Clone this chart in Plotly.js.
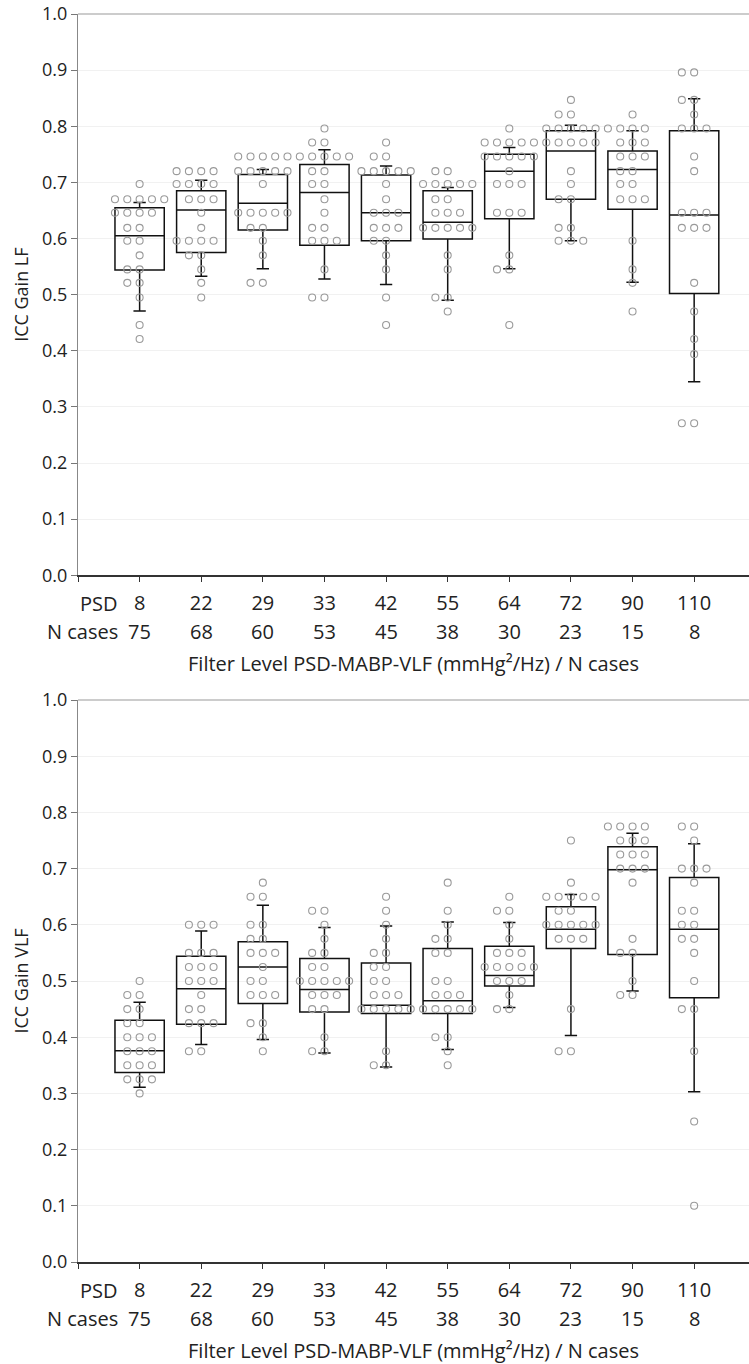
<!DOCTYPE html>
<html>
<head>
<meta charset="utf-8">
<script src="https://cdn.plot.ly/plotly-3.0.1.min.js"></script>
<style>html,body{margin:0;padding:0;background:#fff;}#chart{width:749px;height:1364px;}</style>
</head>
<body>
<div id="chart"></div>
<script>
// ---------- data ----------
const psdLabels = ['8','22','29','33','42','55','64','72','90','110'];
const nCases    = ['75','68','60','53','45','38','30','23','15','8'];
const xTitle = 'Filter Level PSD-MABP-VLF (mmHg²/Hz) / N cases';

// ICC Gain LF : box statistics
const lfQ3    = [0.655,0.685,0.714,0.732,0.713,0.685,0.750,0.792,0.756,0.792];
const lfMed   = [0.605,0.651,0.663,0.682,0.646,0.629,0.720,0.756,0.723,0.642];
const lfQ1    = [0.544,0.575,0.615,0.588,0.596,0.599,0.635,0.670,0.652,0.502];
const lfUpper = [0.664,0.704,0.723,0.758,0.729,0.691,0.762,0.802,0.792,0.849];
const lfLower = [0.471,0.533,0.546,0.528,0.518,0.490,0.546,0.596,0.522,0.345];

// ICC Gain LF : individual points per filter level
const lfPts0 = [0.697,0.670,0.670,0.670,0.670,0.670,0.646,0.646,0.646,0.646,0.619,0.619,0.596,0.596,0.570,0.545,0.545,0.521,0.521,0.495,0.446,0.421];
const lfPts1 = [0.720,0.720,0.720,0.720,0.697,0.697,0.697,0.697,0.670,0.670,0.670,0.646,0.619,0.596,0.596,0.596,0.596,0.570,0.570,0.545,0.521,0.495];
const lfPts2 = [0.746,0.746,0.746,0.746,0.746,0.720,0.720,0.720,0.720,0.720,0.697,0.646,0.646,0.646,0.646,0.646,0.619,0.619,0.596,0.570,0.521,0.521];
const lfPts3 = [0.796,0.771,0.771,0.746,0.746,0.746,0.746,0.746,0.720,0.720,0.697,0.697,0.670,0.646,0.619,0.619,0.596,0.596,0.596,0.545,0.495,0.495];
const lfPts4 = [0.771,0.746,0.746,0.720,0.720,0.720,0.720,0.720,0.697,0.670,0.646,0.646,0.646,0.619,0.619,0.619,0.596,0.596,0.570,0.545,0.495,0.446];
const lfPts5 = [0.720,0.720,0.697,0.697,0.697,0.697,0.697,0.670,0.670,0.646,0.646,0.646,0.619,0.619,0.619,0.619,0.619,0.570,0.545,0.495,0.495,0.470];
const lfPts6 = [0.796,0.771,0.771,0.771,0.771,0.771,0.746,0.746,0.746,0.746,0.746,0.720,0.697,0.697,0.697,0.646,0.646,0.646,0.570,0.545,0.545,0.446];
const lfPts7 = [0.847,0.821,0.821,0.796,0.796,0.796,0.796,0.796,0.771,0.771,0.771,0.771,0.771,0.720,0.697,0.670,0.670,0.619,0.619,0.596,0.596,0.596];
const lfPts8 = [0.821,0.796,0.796,0.796,0.796,0.771,0.771,0.771,0.746,0.746,0.746,0.720,0.720,0.697,0.697,0.670,0.670,0.670,0.596,0.545,0.521,0.470];
const lfPts9 = [0.896,0.896,0.847,0.847,0.821,0.796,0.796,0.796,0.746,0.720,0.646,0.646,0.646,0.619,0.619,0.619,0.521,0.470,0.421,0.394,0.271,0.271];

// ICC Gain VLF : box statistics
const vlfQ3    = [0.430,0.544,0.570,0.540,0.532,0.558,0.562,0.632,0.739,0.684];
const vlfMed   = [0.376,0.486,0.525,0.485,0.457,0.465,0.510,0.592,0.698,0.592];
const vlfQ1    = [0.337,0.423,0.460,0.445,0.442,0.442,0.491,0.558,0.547,0.470];
const vlfUpper = [0.462,0.589,0.635,0.595,0.598,0.605,0.604,0.654,0.763,0.744];
const vlfLower = [0.311,0.387,0.396,0.372,0.347,0.378,0.453,0.403,0.482,0.303];

// ICC Gain VLF : individual points per filter level
const vlfPts0 = [0.500,0.475,0.475,0.450,0.450,0.425,0.425,0.400,0.400,0.400,0.375,0.375,0.375,0.350,0.350,0.350,0.325,0.325,0.325,0.300];
const vlfPts1 = [0.600,0.600,0.600,0.550,0.550,0.550,0.525,0.525,0.525,0.500,0.500,0.500,0.475,0.450,0.450,0.425,0.425,0.425,0.375,0.375];
const vlfPts2 = [0.675,0.650,0.650,0.600,0.600,0.575,0.575,0.550,0.550,0.550,0.525,0.500,0.500,0.475,0.475,0.475,0.425,0.425,0.400,0.375];
const vlfPts3 = [0.625,0.625,0.600,0.575,0.550,0.550,0.525,0.525,0.500,0.500,0.500,0.500,0.500,0.475,0.475,0.475,0.450,0.450,0.400,0.375,0.375];
const vlfPts4 = [0.650,0.625,0.600,0.575,0.550,0.550,0.525,0.525,0.500,0.500,0.475,0.475,0.475,0.450,0.450,0.450,0.450,0.450,0.375,0.350,0.350];
const vlfPts5 = [0.675,0.625,0.600,0.575,0.575,0.550,0.550,0.500,0.500,0.475,0.475,0.475,0.450,0.450,0.450,0.450,0.450,0.400,0.400,0.375,0.350];
const vlfPts6 = [0.650,0.625,0.625,0.600,0.575,0.550,0.550,0.550,0.525,0.525,0.525,0.525,0.525,0.500,0.500,0.500,0.475,0.450,0.450];
const vlfPts7 = [0.750,0.675,0.650,0.650,0.650,0.650,0.650,0.625,0.625,0.600,0.600,0.600,0.600,0.600,0.575,0.575,0.575,0.450,0.375,0.375];
const vlfPts8 = [0.775,0.775,0.775,0.775,0.750,0.750,0.750,0.725,0.725,0.725,0.700,0.700,0.700,0.675,0.575,0.550,0.550,0.500,0.475,0.475];
const vlfPts9 = [0.775,0.775,0.750,0.700,0.700,0.700,0.675,0.625,0.625,0.600,0.600,0.575,0.575,0.550,0.500,0.450,0.450,0.375,0.250,0.100];

const lfPoints  = [lfPts0,lfPts1,lfPts2,lfPts3,lfPts4,lfPts5,lfPts6,lfPts7,lfPts8,lfPts9];
const vlfPoints = [vlfPts0,vlfPts1,vlfPts2,vlfPts3,vlfPts4,vlfPts5,vlfPts6,vlfPts7,vlfPts8,vlfPts9];

// ---------- build ----------
const cats = psdLabels.map((_, i) => i);
const colOrder = [0,-1,1,-2,2,-3,3,-4,4];
const colStep = 0.2;

function swarm(groups) {
  const xs = [], ys = [];
  groups.forEach((vals, ci) => {
    const seen = {};
    vals.forEach(v => {
      const k = v.toFixed(3);
      const n = seen[k] || 0;
      seen[k] = n + 1;
      xs.push(ci + colOrder[n] * colStep);
      ys.push(v);
    });
  });
  return {xs, ys};
}

const boxStyle = {
  type: 'box', boxpoints: false, width: 0.8, whiskerwidth: 0.25,
  fillcolor: 'rgba(0,0,0,0)', line: {color: '#111', width: 1.5},
  hoverinfo: 'skip', showlegend: false
};
const dotStyle = {
  type: 'scatter', mode: 'markers', hoverinfo: 'skip', showlegend: false,
  marker: {symbol: 'circle-open', size: 7, color: '#9a9a9a', line: {width: 1.1}}
};

const lfSw = swarm(lfPoints), vlfSw = swarm(vlfPoints);

const traces = [
  Object.assign({}, boxStyle, {x: cats, q1: lfQ1, median: lfMed, q3: lfQ3, lowerfence: lfLower, upperfence: lfUpper, xaxis: 'x', yaxis: 'y'}),
  Object.assign({}, boxStyle, {x: cats, q1: vlfQ1, median: vlfMed, q3: vlfQ3, lowerfence: vlfLower, upperfence: vlfUpper, xaxis: 'x2', yaxis: 'y2'}),
  Object.assign({}, dotStyle, {x: lfSw.xs, y: lfSw.ys, xaxis: 'x', yaxis: 'y'}),
  Object.assign({}, dotStyle, {x: vlfSw.xs, y: vlfSw.ys, xaxis: 'x2', yaxis: 'y2'})
];

const fontFam = '"Open Sans", "Noto Sans", sans-serif';
const labFont = {size: 20, color: '#222', family: fontFam};
const tickVals = [-1].concat(cats);
const tickText = [''].concat(psdLabels);

function xAxis(anchor) {
  return {
    anchor: anchor, domain: [0, 1], range: [-1, 9.89],
    tickmode: 'array', tickvals: tickVals, ticktext: tickText,
    ticks: 'outside', ticklen: 5, tickwidth: 1, tickcolor: '#333',
    ticklabelstandoff: 4,
    showline: true, linecolor: '#333', linewidth: 1.5,
    showgrid: false, zeroline: false,
    tickfont: labFont,
    title: {text: xTitle, font: labFont, standoff: 42}
  };
}
function yAxis(anchor, domain, title) {
  return {
    anchor: anchor, domain: domain, range: [0, 1],
    tickmode: 'linear', tick0: 0, dtick: 0.1, tickformat: '.1f',
    ticks: 'outside', ticklen: 6, tickwidth: 1, tickcolor: '#777',
    showline: true, linecolor: '#888', linewidth: 1,
    showgrid: true, gridcolor: '#f1f1f1', gridwidth: 1, zeroline: false,
    tickfont: {size: 18, color: '#222', family: fontFam},
    title: {text: title, font: {size: 18, color: '#222', family: fontFam}, standoff: 8}
  };
}

const topDom = [1 - 575.3/1364, 1 - 14/1364];
const botDom = [1 - 1262/1364, 1 - 700/1364];

const annotations = [];
function rowLabels(xref, yPsd, yN) {
  annotations.push({xref: 'paper', yref: 'paper', x: 0.062, y: yPsd, xanchor: 'right', yanchor: 'middle', text: 'PSD', showarrow: false, font: labFont});
  annotations.push({xref: 'paper', yref: 'paper', x: 0.062, y: yN, xanchor: 'right', yanchor: 'middle', text: 'N cases', showarrow: false, font: labFont});
  nCases.forEach((t, i) => annotations.push({xref: xref, yref: 'paper', x: i, y: yN, xanchor: 'center', yanchor: 'middle', text: t, showarrow: false, font: labFont}));
}
rowLabels('x', 1 - 603/1364, 1 - 631/1364);
rowLabels('x2', 1 - 1290/1364, 1 - 1318/1364);

const shapes = [
  {type: 'line', xref: 'x domain', yref: 'y domain', x0: 0, x1: 1, y0: 1, y1: 1, line: {color: '#999', width: 1}},
  {type: 'line', xref: 'x2 domain', yref: 'y2 domain', x0: 0, x1: 1, y0: 1, y1: 1, line: {color: '#999', width: 1}}
];

const layout = {
  width: 749, height: 1364,
  margin: {l: 78, r: 0, t: 0, b: 0},
  paper_bgcolor: '#fff', plot_bgcolor: '#fff',
  showlegend: false,
  font: {family: fontFam, size: 17, color: '#222'},
  xaxis: xAxis('y'), yaxis: yAxis('x', topDom, 'ICC Gain LF'),
  xaxis2: xAxis('y2'), yaxis2: yAxis('x2', botDom, 'ICC Gain VLF'),
  annotations: annotations, shapes: shapes
};

Plotly.newPlot('chart', traces, layout, {staticPlot: true, displayModeBar: false});
</script>
</body>
</html>
